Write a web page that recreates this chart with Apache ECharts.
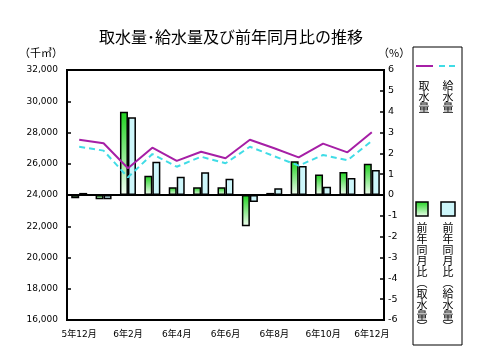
<!DOCTYPE html>
<html>
<head>
<meta charset="utf-8">
<script src="https://cdn.jsdelivr.net/npm/echarts@6/dist/echarts.min.js"></script>
<style>
html,body{margin:0;padding:0;background:#fff;}
#chart{width:480px;height:356px;}
</style>
</head>
<body>
<div id="chart"></div>
<script>
const categories = ['5年12月','6年1月','6年2月','6年3月','6年4月','6年5月','6年6月','6年7月','6年8月','6年9月','6年10月','6年11月','6年12月'];
const intake = [27540, 27310, 25710, 27030, 26180, 26770, 26350, 27540, 26990, 26410, 27290, 26730, 28010];
const supply = [27090, 26840, 25130, 26620, 25810, 26450, 26030, 27090, 26480, 25880, 26560, 26220, 27460];
const intakeYoY = [-0.15, -0.2, 4.0, 0.93, 0.37, 0.37, 0.37, -1.5, 0.1, 1.62, 0.98, 1.1, 1.5];
const supplyYoY = [0.1, -0.2, 3.73, 1.6, 0.88, 1.09, 0.78, -0.33, 0.33, 1.39, 0.4, 0.82, 1.2];
const leftAxis = {min: 16000, max: 32000, step: 2000};
const rightAxis = {min: -6, max: 6, step: 1};
const seriesNames = ['取水量', '給水量', '前年同月比（取水量）', '前年同月比（給水量）'];

const FONT = '"DejaVu Sans", "Noto Sans CJK JP", sans-serif';
const JFONT = '"Noto Sans CJK JP", sans-serif';
const chart = echarts.init(document.getElementById('chart'), null, {renderer: 'canvas'});

const vert = s => s.split('').join('\n');
const greenGrad = new echarts.graphic.LinearGradient(0, 0, 0, 1, [
  {offset: 0, color: '#1ed21e'}, {offset: 1, color: '#f4fff4'}
]);
const cyanFill = '#cdf6fa';

chart.setOption({
  animation: false,
  backgroundColor: '#fff',
  title: {
    text: '取水量･給水量及び前年同月比の推移',
    left: 226, top: 24, textAlign: 'center',
    textStyle: {fontFamily: JFONT, fontSize: 16, fontWeight: 'normal', color: '#000'}
  },
  grid: {left: 67, right: 96, top: 70, bottom: 36, show: true, borderColor: '#000', borderWidth: 2},
  xAxis: {
    type: 'category', data: categories, position: 'bottom',
    axisLine: {onZero: false, lineStyle: {color: '#000', width: 2}},
    axisTick: {alignWithLabel: true, interval: 0, length: 3, lineStyle: {color: '#000', width: 1.5}},
    axisLabel: {interval: 1, margin: 10, color: '#000', fontSize: 9, fontFamily: FONT}
  },
  yAxis: [
    {
      type: 'value', min: leftAxis.min, max: leftAxis.max, interval: leftAxis.step,
      name: '（千㎥）', nameLocation: 'end', nameGap: 12,
      nameTextStyle: {fontFamily: JFONT, fontSize: 11, color: '#000', align: 'right', padding: [0, 4, 0, 0]},
      axisLine: {show: true, lineStyle: {color: '#000', width: 2}},
      axisTick: {show: true, inside: true, length: 4, lineStyle: {color: '#000', width: 1.5}},
      splitLine: {show: false},
      axisLabel: {margin: 9, color: '#000', fontSize: 9, fontFamily: FONT,
        formatter: v => v.toLocaleString('en-US')}
    },
    {
      type: 'value', min: rightAxis.min, max: rightAxis.max, interval: rightAxis.step,
      position: 'right',
      name: '（%）', nameLocation: 'end', nameGap: 12,
      nameTextStyle: {fontFamily: JFONT, fontSize: 11, color: '#000', align: 'left', padding: [0, 0, 0, -6]},
      axisLine: {show: true, lineStyle: {color: '#000', width: 2}},
      axisTick: {show: true, inside: true, length: 4, lineStyle: {color: '#000', width: 1.5}},
      splitLine: {show: false},
      axisLabel: {margin: 4, color: '#000', fontSize: 9.5, fontFamily: FONT}
    }
  ],
  series: [
    {
      name: seriesNames[2], type: 'bar', yAxisIndex: 1, data: intakeYoY,
      barWidth: 8, barGap: '0%', z: 2,
      itemStyle: {color: greenGrad, borderColor: '#000', borderWidth: 1.5},
      markLine: {
        symbol: 'none', silent: true, label: {show: false},
        lineStyle: {color: '#000', width: 2, type: 'solid'},
        data: [{yAxis: 0}]
      }
    },
    {
      name: seriesNames[3], type: 'bar', yAxisIndex: 1, data: supplyYoY,
      barWidth: 8, barGap: '0%', z: 2,
      itemStyle: {color: cyanFill, borderColor: '#000', borderWidth: 1.5}
    },
    {
      name: seriesNames[0], type: 'line', yAxisIndex: 0, data: intake,
      symbol: 'none', z: 5,
      lineStyle: {color: '#a61fa6', width: 2}
    },
    {
      name: seriesNames[1], type: 'line', yAxisIndex: 0, data: supply,
      symbol: 'none', z: 5,
      lineStyle: {color: '#40dce6', width: 2, type: [6, 4]}
    }
  ],
  graphic: [
    {type: 'rect', shape: {x: 413, y: 47, width: 49, height: 298}, style: {fill: 'none', stroke: '#000', lineWidth: 1}},
    {type: 'line', shape: {x1: 416, y1: 66, x2: 433, y2: 66}, style: {stroke: '#a61fa6', lineWidth: 2}},
    {type: 'line', shape: {x1: 439, y1: 66, x2: 457, y2: 66}, style: {stroke: '#40dce6', lineWidth: 2, lineDash: [6, 4]}},
    {type: 'text', x: 424, y: 80, style: {text: vert(seriesNames[0]), fontFamily: JFONT, fontSize: 11, lineHeight: 11, align: 'center', fill: '#000'}},
    {type: 'text', x: 448, y: 80, style: {text: vert(seriesNames[1]), fontFamily: JFONT, fontSize: 11, lineHeight: 11, align: 'center', fill: '#000'}},
    {type: 'rect', shape: {x: 416, y: 202, width: 12, height: 14}, style: {fill: greenGrad, stroke: '#000', lineWidth: 1.5}},
    {type: 'rect', shape: {x: 441, y: 202, width: 14, height: 14}, style: {fill: cyanFill, stroke: '#000', lineWidth: 1.5}},
    {type: 'text', x: 422, y: 222, style: {text: vert('前年同月比︵取水量︶'), fontFamily: JFONT, fontSize: 11, lineHeight: 11, align: 'center', fill: '#000'}},
    {type: 'text', x: 448, y: 222, style: {text: vert('前年同月比︵給水量︶'), fontFamily: JFONT, fontSize: 11, lineHeight: 11, align: 'center', fill: '#000'}}
  ]
});
</script>
</body>
</html>
